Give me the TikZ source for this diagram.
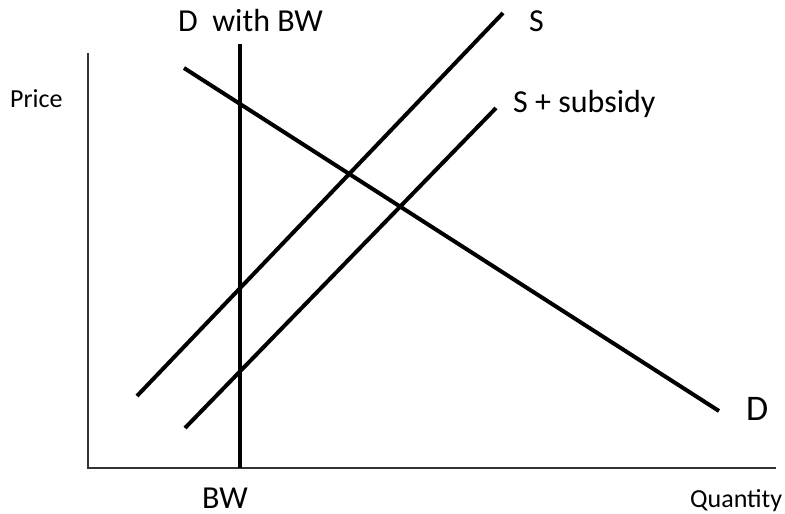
\documentclass[tikz,border=0pt]{standalone}
\usepackage{fontspec}
\setmainfont{Carlito}
\begin{document}
\begin{tikzpicture}[x=1pt, y=-1pt, every node/.style={inner sep=0pt, anchor=base west},
  curve/.style={line width=4pt},
  axis/.style={line width=1.3pt, black!80},
  lab/.style={font=\fontsize{32}{36}\selectfont}]
  \useasboundingbox (0,0) rectangle (785,514);

  % Axes
  \coordinate (origin) at (88,468);
  \coordinate (ytop) at (88,53);
  \coordinate (xend) at (776,468);
  \draw[axis] (ytop) -- (origin) -- (xend);
  \node[font=\fontsize{26}{30}\selectfont] (price) at (10,107) {Price};
  \node[font=\fontsize{26}{30}\selectfont] (qty) at (690,507) {Quantity};

  % Demand with BW (vertical)
  \coordinate (bwtop) at (240,44);
  \coordinate (bwbot) at (240,468);
  \draw[curve] (bwtop) -- (bwbot);
  \node[lab] (bwlab) at (202,508) {BW};
  \node[lab] (dbwlab) at (178,31) {D\ \ with BW};

  % Demand
  \coordinate (dtop) at (184,68);
  \coordinate (dbot) at (719,411);
  \draw[curve] (dtop) -- (dbot);
  \node[font=\fontsize{36}{40}\selectfont] (dlab) at (746,420) {D};

  % Supply
  \coordinate (sbot) at (137,396);
  \coordinate (stop) at (503,13);
  \draw[curve] (sbot) -- (stop);
  \node[lab] (slab) at (529,31) {S};

  % Supply with subsidy
  \coordinate (ssbot) at (185,428);
  \coordinate (sstop) at (496,108);
  \draw[curve] (ssbot) -- (sstop);
  \node[lab] (sslab) at (513,112) {S + subsidy};
\end{tikzpicture}
\end{document}
